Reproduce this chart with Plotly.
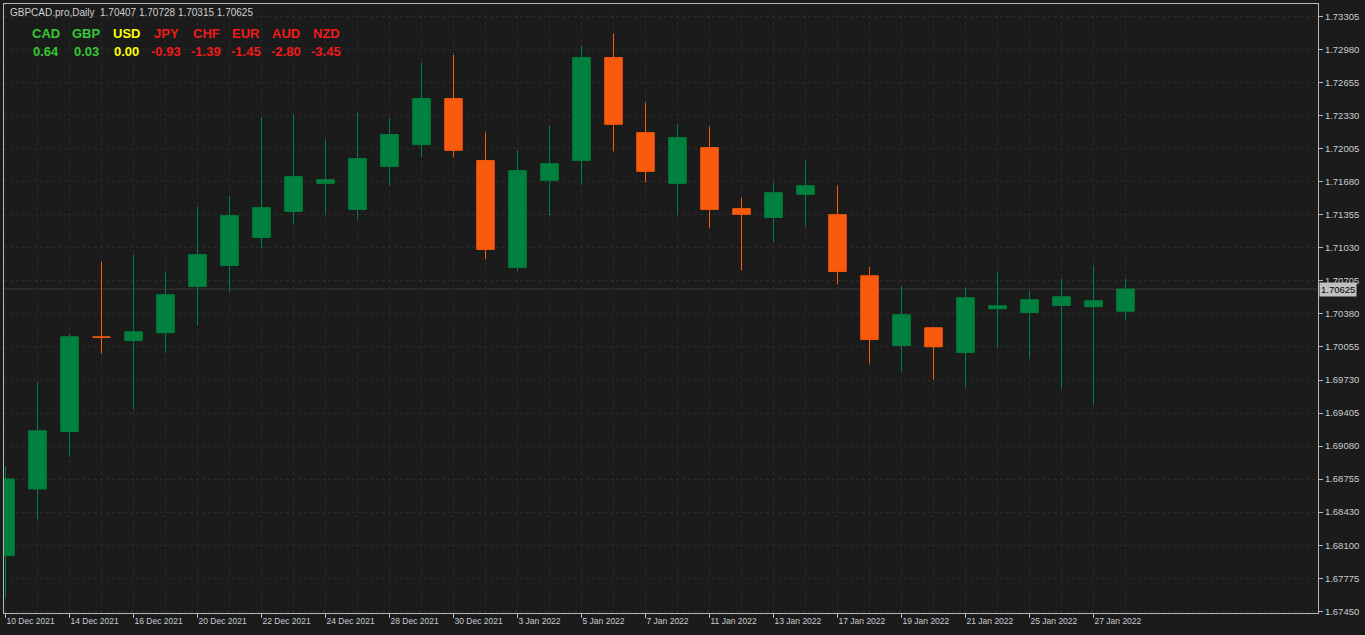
import plotly.graph_objects as go

symbol = "GBPCAD.pro,Daily"
dates = ["10 Dec 2021", "13 Dec 2021", "14 Dec 2021", "15 Dec 2021", "16 Dec 2021", "17 Dec 2021",
         "20 Dec 2021", "21 Dec 2021", "22 Dec 2021", "23 Dec 2021", "24 Dec 2021", "27 Dec 2021",
         "28 Dec 2021", "29 Dec 2021", "30 Dec 2021", "31 Dec 2021", "3 Jan 2022", "4 Jan 2022",
         "5 Jan 2022", "6 Jan 2022", "7 Jan 2022", "10 Jan 2022", "11 Jan 2022", "12 Jan 2022",
         "13 Jan 2022", "14 Jan 2022", "17 Jan 2022", "18 Jan 2022", "19 Jan 2022", "20 Jan 2022",
         "21 Jan 2022", "24 Jan 2022", "25 Jan 2022", "26 Jan 2022", "27 Jan 2022", "28 Jan 2022"]
opens = [1.68002, 1.68658, 1.69223, 1.70152, 1.70119, 1.70195, 1.70651, 1.70857, 1.71133, 1.71389,
         1.71665, 1.71409, 1.71832, 1.72046, 1.72499, 1.71889, 1.70838, 1.71695, 1.71891, 1.72903,
         1.72164, 1.71665, 1.72017, 1.71416, 1.71330, 1.71557, 1.71357, 1.70756, 1.70070, 1.70244,
         1.70001, 1.70431, 1.70395, 1.70464, 1.70451, 1.70407]
highs = [1.68878, 1.69712, 1.70185, 1.70894, 1.70963, 1.70795, 1.71436, 1.71544, 1.72322, 1.72342,
         1.72095, 1.72361, 1.72312, 1.72854, 1.72932, 1.72164, 1.71987, 1.72233, 1.73021, 1.73139,
         1.72460, 1.72243, 1.72223, 1.71524, 1.71672, 1.71889, 1.71642, 1.70845, 1.70658, 1.70254,
         1.70638, 1.70795, 1.70608, 1.70726, 1.70855, 1.70728]
lows = [1.67585, 1.68356, 1.68976, 1.69991, 1.69439, 1.70001, 1.70267, 1.70601, 1.71025, 1.71261,
        1.71360, 1.71310, 1.71645, 1.71921, 1.71921, 1.70917, 1.70798, 1.71350, 1.71655, 1.71980,
        1.71675, 1.71360, 1.71222, 1.70810, 1.71084, 1.71242, 1.70670, 1.69892, 1.69811, 1.69732,
        1.69656, 1.70050, 1.69942, 1.69646, 1.69489, 1.70315]
closes = [1.68757, 1.69230, 1.70155, 1.70152, 1.70204, 1.70569, 1.70963, 1.71347, 1.71426, 1.71731,
          1.71701, 1.71908, 1.72145, 1.72499, 1.71990, 1.71015, 1.71790, 1.71859, 1.72903, 1.72246,
          1.71783, 1.72115, 1.71409, 1.71360, 1.71573, 1.71642, 1.70798, 1.70129, 1.70372, 1.70057,
          1.70539, 1.70461, 1.70520, 1.70549, 1.70510, 1.70625]
price_ticks = [1.73305, 1.72980, 1.72655, 1.72330, 1.72005, 1.71680, 1.71355, 1.71030, 1.70705,
               1.70380, 1.70055, 1.69730, 1.69405, 1.69080, 1.68755, 1.68430, 1.68100, 1.67775, 1.67450]
currencies = ["CAD", "GBP", "USD", "JPY", "CHF", "EUR", "AUD", "NZD"]
strengths = [0.64, 0.03, 0.00, -0.93, -1.39, -1.45, -2.80, -3.45]

BG = "#1b1b1b"
GREEN = "#00813F"
ORANGE = "#F85A0E"
GRID = "#2b2b2b"
AXIS_TXT = "#c6ccd2"
BORDER = "#b8b8b8"

idx = list(range(len(dates)))

fig = go.Figure()
fig.add_trace(go.Candlestick(
    x=idx, open=opens, high=highs, low=lows, close=closes,
    increasing=dict(line=dict(color=GREEN, width=1), fillcolor=GREEN),
    decreasing=dict(line=dict(color=ORANGE, width=1), fillcolor=ORANGE),
    whiskerwidth=0, hoverinfo="skip", showlegend=False,
))

# plot area pixel geometry
L, R, T, B = 4, 1318, 4, 613
W, H = R - L, B - T
def px_x(p):
    return (p - L) / W
def px_y(p):
    return 1 - (p - T) / H

# bid line
fig.add_shape(type="line", xref="paper", x0=0, x1=1, yref="y", y0=closes[-1], y1=closes[-1],
              line=dict(color="#3a3a3a", width=1), layer="below")

ann = []
header = f"{symbol}\u00a0\u00a0{opens[-1]:.5f} {highs[-1]:.5f} {lows[-1]:.5f} {closes[-1]:.5f}"
ann.append(dict(text=header, xref="paper", yref="paper", x=px_x(8), y=px_y(13),
                xanchor="left", yanchor="middle", showarrow=False,
                font=dict(family="Liberation Sans, Arial", size=10, color="#d0d0d0")))
for i, (c, s) in enumerate(zip(currencies, strengths)):
    col = "#34c934" if s > 0 else ("#ffff00" if s == 0 else "#f01a1a")
    xc = 46 + 40 * i
    ann.append(dict(text=f"<b>{c}</b>", xref="paper", yref="paper", x=px_x(xc), y=px_y(33.5),
                    xanchor="center", yanchor="middle", showarrow=False,
                    font=dict(family="Liberation Sans, Arial", size=13, color=col)))
    ann.append(dict(text=f"<b>{s:.2f}</b>", xref="paper", yref="paper", x=px_x(xc), y=px_y(51.5),
                    xanchor="center", yanchor="middle", showarrow=False,
                    font=dict(family="Liberation Sans, Arial", size=13, color=col)))
# current price label
ann.append(dict(text=f"{closes[-1]:.5f}", xref="paper", yref="y", x=1, y=closes[-1],
                xanchor="left", yanchor="middle", xshift=1, showarrow=False,
                bgcolor="#c0c0c0", borderpad=1,
                font=dict(family="Liberation Sans, Arial", size=9.5, color="#000000")))

# pixel -> price mapping: 1.73305 at y=16.7, 1.67450 at y=611.7
ppx = (price_ticks[0] - price_ticks[-1]) / (611.7 - 16.7)
y_top = price_ticks[0] + (16.7 - T) * ppx
y_bot = price_ticks[-1] - (B - 611.7) * ppx

x_left = (L - 5.5) / 32
x_right = (R - 5.5) / 32

fig.update_layout(
    width=1365, height=635,
    margin=dict(l=L, r=1365 - R, t=T, b=635 - B, pad=0),
    paper_bgcolor=BG, plot_bgcolor=BG,
    annotations=ann,
    hovermode=False,
    boxgap=0.22,
    xaxis=dict(
        range=[x_left, x_right], rangeslider=dict(visible=False),
        tickmode="array", tickvals=idx[::2], ticktext=dates[::2],
        ticks="outside", ticklen=4, tickcolor=BORDER,
        ticklabelposition="outside right",
        tickfont=dict(family="Liberation Sans, Arial", size=8.5, color=AXIS_TXT),
        showgrid=True, gridcolor=GRID, griddash="3px,3px", gridwidth=1,
        minor=dict(tickmode="array", tickvals=idx[1::2], showgrid=True, gridcolor=GRID,
                   griddash="3px,3px", ticks=""),
        showline=True, linecolor=BORDER, linewidth=1, mirror=True,
        zeroline=False, fixedrange=True,
    ),
    yaxis=dict(
        range=[y_bot, y_top], side="right",
        tickmode="array", tickvals=price_ticks, ticktext=[f"{v:.5f}" for v in price_ticks],
        ticks="outside", ticklen=4, tickcolor=BORDER,
        tickfont=dict(family="Liberation Sans, Arial", size=9.5, color=AXIS_TXT),
        showgrid=True, gridcolor=GRID, griddash="3px,3px", gridwidth=1,
        showline=True, linecolor=BORDER, linewidth=1, mirror=True,
        zeroline=False, fixedrange=True,
    ),
)

fig.write_html("out.html", config={"displayModeBar": False},
               post_script="document.body.style.margin='0';document.body.style.overflow='hidden';document.body.style.background='#1b1b1b';")
